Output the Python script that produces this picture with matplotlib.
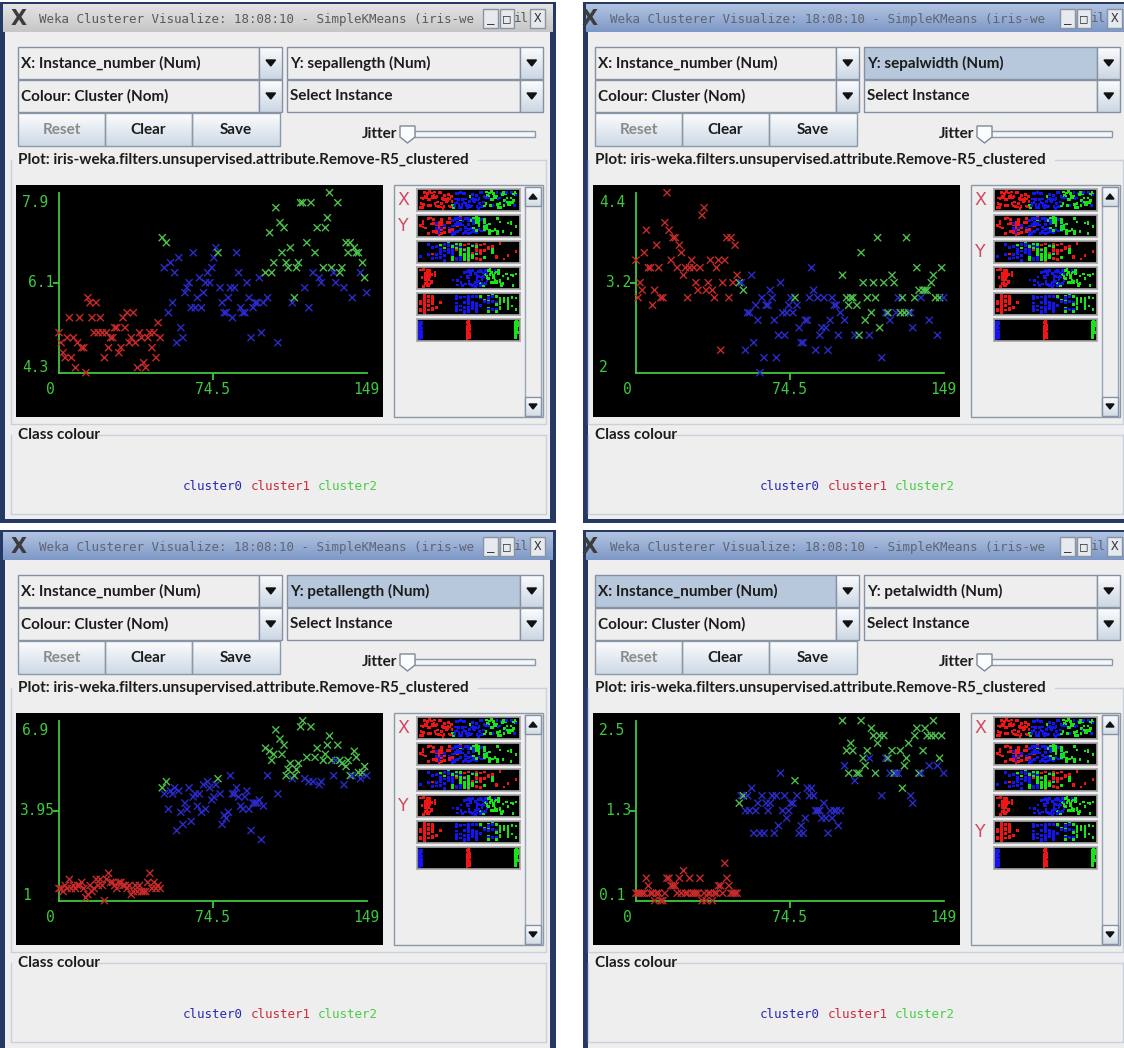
import numpy as np
import matplotlib
matplotlib.use("Agg")
import matplotlib.pyplot as plt
from matplotlib.patches import Rectangle, Polygon
from matplotlib import font_manager, colors as mcolors

# iris with the class attribute removed, in file order (instances 0..149)
sepallength = [
    5.1, 4.9, 4.7, 4.6, 5.0, 5.4, 4.6, 5.0, 4.4, 4.9,
    5.4, 4.8, 4.8, 4.3, 5.8, 5.7, 5.4, 5.1, 5.7, 5.1,
    5.4, 5.1, 4.6, 5.1, 4.8, 5.0, 5.0, 5.2, 5.2, 4.7,
    4.8, 5.4, 5.2, 5.5, 4.9, 5.0, 5.5, 4.9, 4.4, 5.1,
    5.0, 4.5, 4.4, 5.0, 5.1, 4.8, 5.1, 4.6, 5.3, 5.0,
    7.0, 6.4, 6.9, 5.5, 6.5, 5.7, 6.3, 4.9, 6.6, 5.2,
    5.0, 5.9, 6.0, 6.1, 5.6, 6.7, 5.6, 5.8, 6.2, 5.6,
    5.9, 6.1, 6.3, 6.1, 6.4, 6.6, 6.8, 6.7, 6.0, 5.7,
    5.5, 5.5, 5.8, 6.0, 5.4, 6.0, 6.7, 6.3, 5.6, 5.5,
    5.5, 6.1, 5.8, 5.0, 5.6, 5.7, 5.7, 6.2, 5.1, 5.7,
    6.3, 5.8, 7.1, 6.3, 6.5, 7.6, 4.9, 7.3, 6.7, 7.2,
    6.5, 6.4, 6.8, 5.7, 5.8, 6.4, 6.5, 7.7, 7.7, 6.0,
    6.9, 5.6, 7.7, 6.3, 6.7, 7.2, 6.2, 6.1, 6.4, 7.2,
    7.4, 7.9, 6.4, 6.3, 6.1, 7.7, 6.3, 6.4, 6.0, 6.9,
    6.7, 6.9, 5.8, 6.8, 6.7, 6.7, 6.3, 6.5, 6.2, 5.9,
]
sepalwidth = [
    3.5, 3.0, 3.2, 3.1, 3.6, 3.9, 3.4, 3.4, 2.9, 3.1,
    3.7, 3.4, 3.0, 3.0, 4.0, 4.4, 3.9, 3.5, 3.8, 3.8,
    3.4, 3.7, 3.6, 3.3, 3.4, 3.0, 3.4, 3.5, 3.4, 3.2,
    3.1, 3.4, 4.1, 4.2, 3.1, 3.2, 3.5, 3.1, 3.0, 3.4,
    3.5, 2.3, 3.2, 3.5, 3.8, 3.0, 3.8, 3.2, 3.7, 3.3,
    3.2, 3.2, 3.1, 2.3, 2.8, 2.8, 3.3, 2.4, 2.9, 2.7,
    2.0, 3.0, 2.2, 2.9, 2.9, 3.1, 3.0, 2.7, 2.2, 2.5,
    3.2, 2.8, 2.5, 2.8, 2.9, 3.0, 2.8, 3.0, 2.9, 2.6,
    2.4, 2.4, 2.7, 2.7, 3.0, 3.4, 3.1, 2.3, 3.0, 2.5,
    2.6, 3.0, 2.6, 2.3, 2.7, 3.0, 2.9, 2.9, 2.5, 2.8,
    3.3, 2.7, 3.0, 2.9, 3.0, 3.0, 2.5, 2.9, 2.5, 3.6,
    3.2, 2.7, 3.0, 2.5, 2.8, 3.2, 3.0, 3.8, 2.6, 2.2,
    3.2, 2.8, 2.8, 2.7, 3.3, 3.2, 2.8, 3.0, 2.8, 3.0,
    2.8, 3.8, 2.8, 2.8, 2.6, 3.0, 3.4, 3.1, 3.0, 3.1,
    3.1, 3.1, 2.7, 3.2, 3.3, 3.0, 2.5, 3.0, 3.4, 3.0,
]
petallength = [
    1.4, 1.4, 1.3, 1.5, 1.4, 1.7, 1.4, 1.5, 1.4, 1.5,
    1.5, 1.6, 1.4, 1.1, 1.2, 1.5, 1.3, 1.4, 1.7, 1.5,
    1.7, 1.5, 1.0, 1.7, 1.9, 1.6, 1.6, 1.5, 1.4, 1.6,
    1.6, 1.5, 1.5, 1.4, 1.5, 1.2, 1.3, 1.5, 1.3, 1.5,
    1.3, 1.3, 1.3, 1.6, 1.9, 1.4, 1.6, 1.4, 1.5, 1.4,
    4.7, 4.5, 4.9, 4.0, 4.6, 4.5, 4.7, 3.3, 4.6, 3.9,
    3.5, 4.2, 4.0, 4.7, 3.6, 4.4, 4.5, 4.1, 4.5, 3.9,
    4.8, 4.0, 4.9, 4.7, 4.3, 4.4, 4.8, 5.0, 4.5, 3.5,
    3.8, 3.7, 3.9, 5.1, 4.5, 4.5, 4.7, 4.4, 4.1, 4.0,
    4.4, 4.6, 4.0, 3.3, 4.2, 4.2, 4.2, 4.3, 3.0, 4.1,
    6.0, 5.1, 5.9, 5.6, 5.8, 6.6, 4.5, 6.3, 5.8, 6.1,
    5.1, 5.3, 5.5, 5.0, 5.1, 5.3, 5.5, 6.7, 6.9, 5.0,
    5.7, 4.9, 6.7, 4.9, 5.7, 6.0, 4.8, 4.9, 5.6, 5.8,
    6.1, 6.4, 5.6, 5.1, 5.6, 6.1, 5.6, 5.5, 4.8, 5.4,
    5.6, 5.1, 5.1, 5.9, 5.7, 5.2, 5.0, 5.2, 5.4, 5.1,
]
petalwidth = [
    0.2, 0.2, 0.2, 0.2, 0.2, 0.4, 0.3, 0.2, 0.2, 0.1,
    0.2, 0.2, 0.1, 0.1, 0.2, 0.4, 0.4, 0.3, 0.3, 0.3,
    0.2, 0.4, 0.2, 0.5, 0.2, 0.2, 0.4, 0.2, 0.2, 0.2,
    0.2, 0.4, 0.1, 0.2, 0.1, 0.2, 0.2, 0.1, 0.2, 0.2,
    0.3, 0.3, 0.2, 0.6, 0.4, 0.3, 0.2, 0.2, 0.2, 0.2,
    1.4, 1.5, 1.5, 1.3, 1.5, 1.3, 1.6, 1.0, 1.3, 1.4,
    1.0, 1.5, 1.0, 1.4, 1.3, 1.4, 1.5, 1.0, 1.5, 1.1,
    1.8, 1.3, 1.5, 1.2, 1.3, 1.4, 1.4, 1.7, 1.5, 1.0,
    1.1, 1.0, 1.2, 1.6, 1.5, 1.6, 1.5, 1.3, 1.3, 1.3,
    1.2, 1.4, 1.2, 1.0, 1.3, 1.2, 1.3, 1.3, 1.1, 1.3,
    2.5, 1.9, 2.1, 1.8, 2.2, 2.1, 1.7, 1.8, 1.8, 2.5,
    2.0, 1.9, 2.1, 2.0, 2.4, 2.3, 1.8, 2.2, 2.3, 1.5,
    2.3, 2.0, 2.0, 1.8, 2.1, 1.8, 1.8, 1.8, 2.1, 1.6,
    1.9, 2.0, 2.2, 1.5, 1.4, 2.3, 2.4, 1.8, 1.8, 2.1,
    2.4, 2.3, 1.9, 2.3, 2.5, 2.3, 1.9, 2.0, 2.3, 1.8,
]
# SimpleKMeans assignment (0 = cluster0, 1 = cluster1, 2 = cluster2)
cluster = [
    1, 1, 1, 1, 1, 1, 1, 1, 1, 1,
    1, 1, 1, 1, 1, 1, 1, 1, 1, 1,
    1, 1, 1, 1, 1, 1, 1, 1, 1, 1,
    1, 1, 1, 1, 1, 1, 1, 1, 1, 1,
    1, 1, 1, 1, 1, 1, 1, 1, 1, 1,
    2, 0, 2, 0, 0, 0, 0, 0, 0, 0,
    0, 0, 0, 0, 0, 0, 0, 0, 0, 0,
    0, 0, 0, 0, 0, 0, 0, 2, 0, 0,
    0, 0, 0, 0, 0, 0, 0, 0, 0, 0,
    0, 0, 0, 0, 0, 0, 0, 0, 0, 0,
    2, 0, 2, 2, 2, 2, 0, 2, 2, 2,
    2, 2, 2, 0, 2, 2, 2, 2, 2, 0,
    2, 0, 2, 0, 2, 2, 0, 0, 2, 2,
    2, 2, 2, 0, 0, 2, 2, 2, 0, 2,
    2, 2, 0, 2, 2, 2, 0, 2, 2, 0,
]
instance_number = list(range(len(cluster)))
cluster_names = ["cluster0", "cluster1", "cluster2"]

attributes = {
    "Instance_number": instance_number,
    "sepallength": sepallength,
    "sepalwidth": sepalwidth,
    "petallength": petallength,
    "petalwidth": petalwidth,
    "Cluster": cluster,
}
attr_order = list(attributes)

PLOT_COL = {0: "#2b2bcc", 1: "#c82a2a", 2: "#4cbf4c"}
BAR_COL = {0: "#1414f0", 1: "#f01414", 2: "#14e614"}
LEGEND_COL = ["#2828b4", "#cc2a3c", "#48cc48"]
AXIS_GREEN = "#3ec83e"


def pick(*names):
    for n in names:
        try:
            font_manager.findfont(font_manager.FontProperties(family=n),
                                  fallback_to_default=False)
            return n
        except ValueError:
            pass
    return "DejaVu Sans"


UI = pick("Liberation Sans Narrow", "Lato", "DejaVu Sans")
MONO = "DejaVu Sans Mono"

W, H = 1124, 1048
fig = plt.figure(figsize=(W / 100, H / 100), dpi=100)
fig.patch.set_facecolor("white")
bg = fig.add_axes([0, 0, 1, 1])
bg.set_xlim(0, W)
bg.set_ylim(H, 0)
bg.axis("off")


def rect(x0, y0, x1, y1, fc, ec="none", lw=1.0, z=2):
    bg.add_patch(Rectangle((x0, y0), x1 - x0, y1 - y0, facecolor=fc,
                           edgecolor=ec, linewidth=lw, zorder=z))


def grad(x0, y0, x1, y1, c0, c1, z=2, horiz=False):
    a = np.array(mcolors.to_rgb(c0))
    b = np.array(mcolors.to_rgb(c1))
    t = np.linspace(0, 1, 64)
    g = a[None, :] * (1 - t[:, None]) + b[None, :] * t[:, None]
    img = g[None, :, :] if horiz else g[:, None, :]
    bg.imshow(img, extent=(x0, x1, y1, y0), aspect="auto", zorder=z,
              interpolation="bilinear")


def label(x, y, s, size=11, color="#1c1c1c", ha="left", bold=True, family=None, z=5):
    bg.text(x, y, s, fontsize=size, color=color, ha=ha, va="center",
            fontfamily=family or UI, fontweight="bold" if bold else "normal",
            zorder=z)


def combo(x0, y0, x1, y1, text, hl):
    rect(x0, y0, x1 - 23, y1, "#b8c8dc" if hl else "#eeeeee", "#8592a3", z=3)
    grad(x1 - 23, y0, x1, y1, "#fbfcfd", "#ccd7e4", z=3)
    rect(x1 - 23, y0, x1, y1, "none", "#8592a3", z=4)
    cy = (y0 + y1) / 2
    bg.add_patch(Polygon([[x1 - 16, cy - 3], [x1 - 6.5, cy - 3], [x1 - 11.2, cy + 3]],
                         closed=True, color="#111111", zorder=5))
    label(x0 + 3, cy + 0.5, text)


def button(x0, y0, x1, y1, text, enabled=True):
    grad(x0, y0, x1, y1, "#fdfdfe", "#cdd9e6", z=3)
    rect(x0, y0, x1, y1, "none", "#8c99a8", z=4)
    label((x0 + x1) / 2, (y0 + y1) / 2 + 0.5, text, ha="center",
          color="#1c1c1c" if enabled else "#8a8a8a")


def scatter_panel(ox, oy, yname):
    ax = fig.add_axes([(ox + 16) / W, 1 - (oy + 417) / H, 367 / W, 232 / H])
    ax.set_facecolor("black")
    for s in ax.spines.values():
        s.set_visible(False)
    ax.set_xticks([])
    ax.set_yticks([])
    xs = np.array(instance_number, dtype=float)
    ys = np.array(attributes[yname], dtype=float)
    xmin, xmax = xs.min(), xs.max()
    vmin, vmax = ys.min(), ys.max()
    sx = (366.7 - 59) / (xmax - xmin)
    sy = 180.0 / (vmax - vmin)
    ax.set_xlim(xmin - (59 - 16) / sx, xmax + (383 - 366.7) / sx)
    ax.set_ylim(vmin - (417 - 372.7) / sy, vmax + (192.7 - 185) / sy)

    # axes in the plot colour
    ax.plot([xmin, xmin], [vmin, vmax], color=AXIS_GREEN, lw=1.3)
    ax.plot([xmin, xmax], [vmin, vmin], color=AXIS_GREEN, lw=1.3)
    xmid, ymid = (xmin + xmax) / 2, (vmin + vmax) / 2
    ax.plot([xmid], [vmin], marker=3, ms=5, mew=1.3, color=AXIS_GREEN)
    ax.plot([xmin], [ymid], marker=0, ms=4, mew=1.3, color=AXIS_GREEN)

    cols = [PLOT_COL[c] for c in cluster]
    ax.scatter(xs, ys, c=cols, marker="x", s=26, linewidths=1.0, zorder=3)

    def fmt(v):
        return f"{v:g}"

    kw = dict(textcoords="offset pixels", color=AXIS_GREEN, fontsize=10.5,
              fontfamily=MONO, va="center", annotation_clip=False)
    ax.annotate(fmt(vmax), (xmin, vmax), xytext=(-37, -9.5), ha="left", **kw)
    ax.annotate(fmt(ymid), (xmin, ymid), xytext=(-5, 0), ha="right", **kw)
    ax.annotate(fmt(vmin), (xmin, vmin), xytext=(-37, 5), ha="left", **kw)
    ax.annotate(fmt(xmin), (xmin, vmin), xytext=(-9, -16.5), ha="center", **kw)
    ax.annotate(fmt(xmid), (xmid, vmin), xytext=(0, -16.5), ha="center", **kw)
    ax.annotate(fmt(xmax), (xmax, vmin), xytext=(0, -16.5), ha="center", **kw)


def attribute_bars(ox, oy, yrow):
    n = len(cluster)
    idx = np.arange(n)
    # vertical spread of the dots inside each strip
    jy = ((idx * idx * 7 + idx * 31 + 5) % 151) / 150.0
    jx = ((idx * 23) % 5 - 2) / 2.0
    cols = [BAR_COL[c] for c in cluster]
    for k, name in enumerate(attr_order):
        top = oy + 189.3 + 26 * k
        ax = fig.add_axes([(ox + 417) / W, 1 - (top + 21.5) / H, 102.5 / W, 21.5 / H])
        ax.set_facecolor("black")
        for s in ax.spines.values():
            s.set_color("#a8a8a8")
            s.set_linewidth(1.2)
        ax.set_xticks([])
        ax.set_yticks([])
        v = np.array(attributes[name], dtype=float)
        lo, hi = v.min(), v.max()
        pad = (hi - lo) * 0.035
        ax.set_xlim(lo - pad, hi + pad)
        ax.set_ylim(-0.15, 1.15)
        xv = v + (jx * 0.012 * (hi - lo) if name == "Cluster" else 0)
        ax.scatter(xv, jy, c=cols, marker="s", s=3.6, linewidths=0)
    bg.text(ox + 403, oy + 189.3 + 11, "X", fontsize=12.5, color="#d24a62",
            ha="center", va="center", fontfamily="DejaVu Sans", zorder=6)
    bg.text(ox + 403, oy + 189.3 + 26 * yrow + 11, "Y", fontsize=12.5,
            color="#d24a62", ha="center", va="center", fontfamily="DejaVu Sans",
            zorder=6)


def window(ox, oy, wx0, wx1, wy1, title_x, yname, yrow, hl, active):
    # frame and content
    rect(wx0, oy + 2, wx1, wy1, "#263864", z=1)
    rect(wx0 + 5, oy + 32, min(wx1 - 6, W), wy1 - 4, "#eeeeee", z=1)
    if active:
        grad(wx0 + 3, oy + 4, wx1 - 3, oy + 32, "#b3c4e2", "#7d98c6", z=2)
        tcol = "#5e6573"
    else:
        grad(wx0 + 3, oy + 4, wx1 - 3, oy + 32, "#e4e4e4", "#c6c6c6", z=2)
        tcol = "#5a5a5a"
    bg.text(ox + title_x - 20, oy + 19, "X", fontsize=15, color="#3c3c3c",
            ha="center", va="center", fontfamily="DejaVu Sans",
            fontweight="bold", zorder=5)
    bg.text(ox + title_x, oy + 19,
            "Weka Clusterer Visualize: 18:08:10 - SimpleKMeans (iris-we",
            fontsize=9, color=tcol, ha="left", va="center", fontfamily=MONO,
            zorder=5)
    for bx0, bx1, s in [(483, 498, "_"), (500, 514, "\u25a1"), (530, 545, "X")]:
        rect(ox + bx0, oy + 9, ox + bx1, oy + 28, "#e6e9ee", "#8a93a0", z=5)
        bg.text(ox + (bx0 + bx1) / 2, oy + 18.5, s, fontsize=9, color="#333333",
                ha="center", va="center", fontfamily=MONO, zorder=6)
    bg.text(ox + 521, oy + 18.5, "il", fontsize=9, color=tcol, ha="center",
            va="center", fontfamily=MONO, zorder=6)

    combo(ox + 18, oy + 47, ox + 282, oy + 79, "X: Instance_number (Num)", hl == "x")
    combo(ox + 287, oy + 47, ox + 543, oy + 79, f"Y: {yname} (Num)", hl == "y")
    combo(ox + 18, oy + 80, ox + 282, oy + 112, "Colour: Cluster (Nom)", False)
    combo(ox + 287, oy + 80, ox + 543, oy + 112, "Select Instance", False)

    button(ox + 18, oy + 113, ox + 105, oy + 146, "Reset", enabled=False)
    button(ox + 105, oy + 113, ox + 192, oy + 146, "Clear")
    button(ox + 192, oy + 113, ox + 280, oy + 146, "Save")

    label(ox + 397, oy + 134, "Jitter", ha="right")
    rect(ox + 414, oy + 130.5, ox + 535, oy + 137, "#f4f6f9", "#8c99a8", z=3)
    bg.add_patch(Polygon([[ox + 400, oy + 126], [ox + 415, oy + 126],
                          [ox + 415, oy + 137], [ox + 407.5, oy + 143],
                          [ox + 400, oy + 137]], closed=True,
                         facecolor="#fbfcfd", edgecolor="#7d8a99", lw=1, zorder=4))

    # plot group
    ec = "#c8d0dc"
    bg.plot([ox + 11, ox + 11, ox + 546, ox + 546],
            [oy + 160, oy + 424, oy + 424, oy + 160], color=ec, lw=1, zorder=2)
    bg.plot([ox + 478, ox + 546], [oy + 160, oy + 160], color=ec, lw=1, zorder=2)
    label(ox + 18, oy + 160,
          "Plot: iris-weka.filters.unsupervised.attribute.Remove-R5_clustered")

    # attribute strip panel with scrollbar
    rect(ox + 394, oy + 185, ox + 543, oy + 417, "#eeeeee", "#8c99a8", z=2)
    rect(ox + 525, oy + 187, ox + 541, oy + 416, "#eeeeee", "#9aa5b3", z=3)
    for y0, y1, up in [(187, 206, True), (397, 416, False)]:
        grad(ox + 525, oy + y0, ox + 541, oy + y1, "#fbfcfd", "#d3dde9", z=3)
        rect(ox + 525, oy + y0, ox + 541, oy + y1, "none", "#8592a3", z=4)
        cy = oy + (y0 + y1) / 2
        d = -1 if up else 1
        bg.add_patch(Polygon([[ox + 529, cy - 2.5 * d], [ox + 537, cy - 2.5 * d],
                              [ox + 533, cy + 2.5 * d]], closed=True,
                             color="#111111", zorder=5))

    # class colour group
    bg.plot([ox + 11, ox + 11, ox + 546, ox + 546],
            [oy + 435, oy + 514, oy + 514, oy + 435], color=ec, lw=1, zorder=2)
    bg.plot([ox + 92, ox + 546], [oy + 435, oy + 435], color=ec, lw=1, zorder=2)
    label(ox + 18, oy + 435, "Class colour")
    for i, name in enumerate(cluster_names):
        bg.text(ox + 183 + 67.5 * i, oy + 487, name, fontsize=9,
                color=LEGEND_COL[i], ha="left", va="center", fontfamily=MONO,
                zorder=5)

    scatter_panel(ox, oy, yname)
    attribute_bars(ox, oy, yrow)


window(0, 0, 0, 556, 523, 39, "sepallength", 1, None, False)
window(577, 0, 583, 1130, 523, 33, "sepalwidth", 2, "y", True)
window(0, 528, 0, 556, 1052, 39, "petallength", 3, "y", True)
window(577, 528, 583, 1130, 1052, 33, "petalwidth", 4, "x", True)

bg.set_xlim(0, W)
bg.set_ylim(H, 0)
fig.savefig("out.png", dpi=100)
